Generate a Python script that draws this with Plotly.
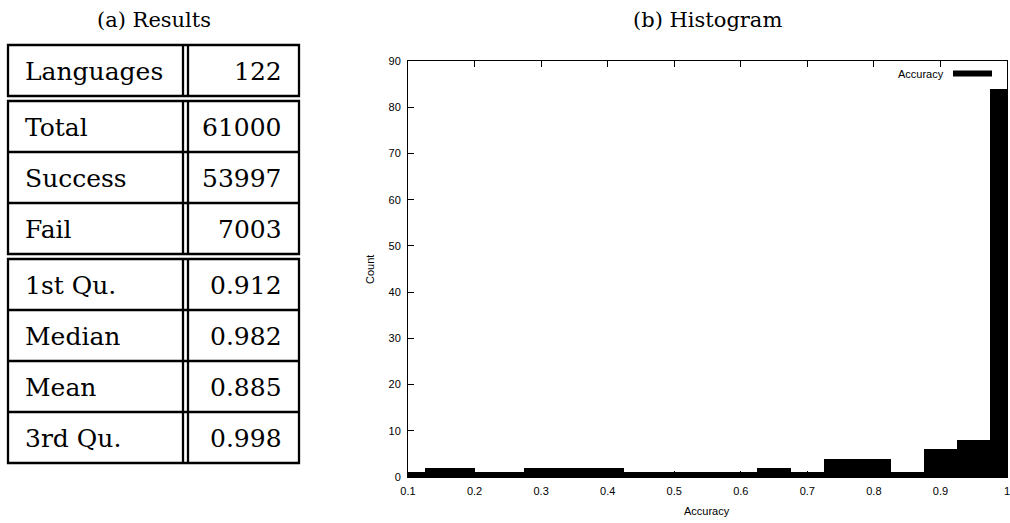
import plotly.graph_objects as go

# ---------------- data ----------------
table_labels = ["Languages", "Total", "Success", "Fail", "1st Qu.", "Median", "Mean", "3rd Qu."]
table_values = ["122", "61000", "53997", "7003", "0.912", "0.982", "0.885", "0.998"]
table_groups = [1, 3, 4]  # rows per boxed group

hist_centers = [0.10, 0.15, 0.25, 0.30, 0.35, 0.40, 0.45, 0.60, 0.65, 0.70,
                0.75, 0.80, 0.85, 0.90, 0.95, 1.00]
hist_counts = [1, 2, 1, 2, 2, 2, 1, 1, 2, 1, 4, 4, 1, 6, 8, 84]

x_ticks = [0.1, 0.2, 0.3, 0.4, 0.5, 0.6, 0.7, 0.8, 0.9, 1.0]
x_ticktext = ["0.1", "0.2", "0.3", "0.4", "0.5", "0.6", "0.7", "0.8", "0.9", "1"]

# ---------------- geometry helpers ----------------
W, H = 1010, 523
def fx(p): return p / W
def fy(p): return 1 - p / H

# gnuplot-style boxes: each box extends halfway to its neighbours
n = len(hist_centers)
lefts, widths = [], []
for i, c in enumerate(hist_centers):
    l = (hist_centers[i - 1] + c) / 2 if i > 0 else c - (hist_centers[1] - c) / 2
    r = (c + hist_centers[i + 1]) / 2 if i < n - 1 else c + (c - hist_centers[i - 1]) / 2
    lefts.append(l)
    widths.append(r - l)

fig = go.Figure()
fig.add_trace(go.Bar(
    x=lefts, y=hist_counts, width=widths, offset=0,
    marker=dict(color="black", line=dict(width=0)),
    xaxis="x", yaxis="y", showlegend=False, name="Accuracy",
))

# ---------------- table (drawn in x2/y2, 1 unit = 1 px) ----------------
ROW_H, GAP, TW, VX1, VX2 = 51, 5, 291, 175, 180
LW = 2.3
shapes = []
annotations = []
serif = "DejaVu Serif"
row = 0
top = 0
for g in table_groups:
    gtop = top
    for k in range(g):
        rt = top
        rb = top + ROW_H
        annotations.append(dict(xref="x2", yref="y2", x=15, y=(rt + rb) / 2 + 1,
                                text=table_labels[row], showarrow=False, xanchor="left",
                                yanchor="middle", font=dict(family=serif, size=25, color="black")))
        annotations.append(dict(xref="x2", yref="y2", x=276, y=(rt + rb) / 2 + 1,
                                text=table_values[row], showarrow=False, xanchor="right",
                                yanchor="middle", font=dict(family=serif, size=25, color="black")))
        if k < g - 1:
            shapes.append(dict(type="line", xref="x2", yref="y2", x0=0, x1=TW, y0=rb, y1=rb,
                               line=dict(color="black", width=LW)))
        top = rb
        row += 1
    gbot = top
    shapes.append(dict(type="rect", xref="x2", yref="y2", x0=0, x1=TW, y0=gtop, y1=gbot,
                       line=dict(color="black", width=LW)))
    for vx in (VX1, VX2):
        shapes.append(dict(type="line", xref="x2", yref="y2", x0=vx, x1=vx, y0=gtop, y1=gbot,
                           line=dict(color="black", width=LW)))
    top += GAP

# legend key
shapes.append(dict(type="rect", xref="paper", yref="paper", x0=fx(953), x1=fx(992),
                   y0=fy(76.5), y1=fy(70.5), fillcolor="black", line=dict(width=0)))
annotations.append(dict(xref="paper", yref="paper", x=fx(946), y=fy(74), text="Accuracy",
                        showarrow=False, xanchor="right", yanchor="middle",
                        font=dict(family="Liberation Sans", size=11, color="black")))

# titles
annotations.append(dict(xref="paper", yref="paper", x=fx(154), y=fy(20), text="(a) Results",
                        showarrow=False, xanchor="center", yanchor="middle",
                        font=dict(family=serif, size=21, color="black")))
annotations.append(dict(xref="paper", yref="paper", x=fx(707), y=fy(20), text="(b) Histogram",
                        showarrow=False, xanchor="center", yanchor="middle",
                        font=dict(family=serif, size=21, color="black")))
# axis titles
annotations.append(dict(xref="paper", yref="paper", x=fx(707), y=fy(511), text="Accuracy",
                        showarrow=False, xanchor="center", yanchor="middle",
                        font=dict(family="Liberation Sans", size=11, color="black")))
annotations.append(dict(xref="paper", yref="paper", x=fx(370), y=fy(270), text="Count",
                        showarrow=False, xanchor="center", yanchor="middle", textangle=-90,
                        font=dict(family="Liberation Sans", size=11, color="black")))

tickfont = dict(family="Liberation Sans", size=11, color="black")
fig.update_layout(
    width=W, height=H,
    margin=dict(l=0, r=0, t=0, b=0, autoexpand=False),
    paper_bgcolor="white", plot_bgcolor="white",
    showlegend=False,
    xaxis=dict(domain=[fx(408), fx(1007)], range=[0.1, 1.0], tickvals=x_ticks, ticktext=x_ticktext,
               ticks="inside", ticklen=6, tickcolor="black", mirror="ticks", showline=True,
               linecolor="black", linewidth=1, showgrid=False, zeroline=False, tickfont=tickfont,
               anchor="y", ticklabelstandoff=4, ticklabeloverflow="allow"),
    yaxis=dict(domain=[fy(477), fy(61)], range=[0, 90], tick0=0, dtick=10,
               ticks="inside", ticklen=6, tickcolor="black", mirror="ticks", showline=True,
               linecolor="black", linewidth=1, showgrid=False, zeroline=False, tickfont=tickfont,
               anchor="x", ticklabelstandoff=4),
    xaxis2=dict(domain=[0, 320 / W], range=[-8, 312], visible=False, anchor="y2", fixedrange=True),
    yaxis2=dict(domain=[0, 1], range=[478, -45], visible=False, anchor="x2", fixedrange=True),
    shapes=shapes,
    annotations=annotations,
    bargap=0,
)

fig.write_html(
    "out.html",
    post_script="document.body.style.margin='0';document.body.style.overflow='hidden';"
                "document.documentElement.style.overflow='hidden';",
)
